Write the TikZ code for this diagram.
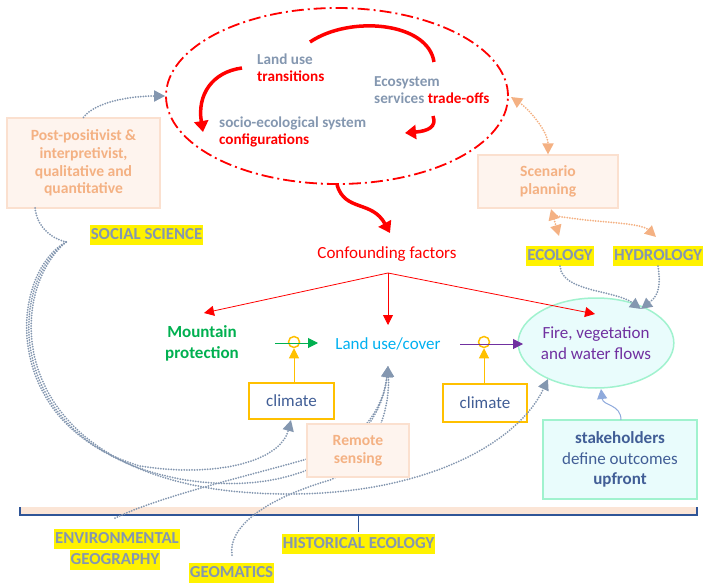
\documentclass[tikz,border=0pt]{standalone}
\usepackage{fontspec}
\setmainfont{Carlito}
\usetikzlibrary{arrows.meta,shapes.geometric,calc}

\definecolor{slate}{HTML}{8497B0}
\definecolor{peachtx}{HTML}{F4B183}
\definecolor{peachfill}{HTML}{FEF4EE}
\definecolor{peachline}{HTML}{FBE0CF}
\definecolor{mint}{HTML}{A0F2CE}
\definecolor{icefill}{HTML}{E9FCFC}
\definecolor{amber}{HTML}{FFC000}
\definecolor{inkblue}{HTML}{415E96}
\definecolor{mtgreen}{HTML}{00B050}
\definecolor{skyblue}{HTML}{00B0F0}
\definecolor{violet}{HTML}{7030A0}
\definecolor{bracecol}{HTML}{2F5597}
\definecolor{barfill}{HTML}{FBE5D6}
\definecolor{softblue}{HTML}{8FAADC}

\newcommand\fsbody{\fontsize{17}{20.5}\selectfont}
\newcommand\fssmall{\fontsize{15.6}{17.6}\selectfont}
\newcommand\fsloop{\fontsize{15.2}{17}\selectfont}
\newcommand\fstag{\fontsize{16.8}{20}\selectfont}

\begin{document}
\begin{tikzpicture}[x=1pt,y=-1pt,
  dotline/.style={draw=slate,line width=2pt,line cap=round,dash pattern=on 0pt off 2.6pt},
  peachdot/.style={draw=peachtx,line width=2pt,line cap=round,dash pattern=on 0pt off 2.6pt},
  tipS/.tip={Triangle[length=11pt,width=11pt]},
  redthick/.style={draw=red,line width=3.5pt,-{Triangle[length=11pt,width=14pt]}},
  redthin/.style={draw=red,line width=0.8pt,-{Triangle[length=10pt,width=10pt]}},
  paleBox/.style={draw=peachline,fill=peachfill,line width=1.2pt,text=peachtx,
    font=\bfseries\fssmall,align=center,inner sep=0pt},
  climbox/.style={draw=amber,line width=1.6pt,fill=white,text=inkblue,font=\fsbody,
    minimum width=85pt,minimum height=36pt,inner sep=0pt},
  hl/.style={fill=yellow,text=slate,font=\bfseries\fstag,inner xsep=1pt,inner ysep=2.5pt,
    text height=12pt,text depth=3pt},
  looptext/.style={text=slate,font=\bfseries\fsloop,align=left,anchor=west,inner sep=0pt},
  ring/.style={circle,draw=amber,line width=1.5pt,minimum size=11pt,inner sep=0pt}
]
\useasboundingbox (0,0) rectangle (703,585);

% bottom brace bar
\fill[barfill] (20,507) rectangle (697,515);
\draw[bracecol,line width=1.6pt] (20,507) -- (20,515) -- (697,515) -- (697,507);
\coordinate (barmid) at (358.5,515);
\coordinate (barfoot) at (358.5,532);
\draw[bracecol,line width=1.6pt] (barmid) -- (barfoot);

% the socio-ecological loop
\node[ellipse,draw=red,line width=1.8pt,dash pattern=on 12pt off 4pt on 2pt off 4pt,
  minimum width=342pt,minimum height=176pt] (cycle) at (337,96) {};
\node[looptext] (lut) at (257,67.5) {Land use\\\textcolor{red}{transitions}};
\node[looptext] (est) at (374,90) {Ecosystem\\services \textcolor{red}{trade-offs}};
\node[looptext] (ses) at (219,131.5) {socio-ecological system\\\textcolor{red}{configurations}};
\coordinate (a1) at (310,42);
\coordinate (a2) at (434,62);
\draw[draw=red,line width=3.5pt] (a1) .. controls (350,15) and (428,22) .. (a2);
\coordinate (b1) at (242,68);
\coordinate (b2) at (203,132);
\draw[redthick] (b1) .. controls (212,72) and (197,95) .. (b2);
\coordinate (c1) at (433,116);
\coordinate (c2) at (405,133);
\draw[redthick] (c1) .. controls (437,127) and (428,131) .. (c2);

% confounding factors
\node[text=red,font=\fsbody] (cf) at (387,254) {Confounding factors};
\coordinate (cfapex) at (388,273);
\draw[redthick] (cycle.south) .. controls (345,212) and (372,200) .. (390,233);

% middle row
\node[text=mtgreen,font=\bfseries\fsbody,align=center] (mp) at (202,343.5) {Mountain\\protection};
\node[text=skyblue,font=\fsbody] (lu) at (388,344) {Land use/cover};
\node[ellipse,draw=mint,fill=icefill,line width=1.5pt,minimum width=136pt,minimum height=90pt,
  inner sep=0pt,text=violet,font=\fsbody,align=center] (fire) at (596,343)
  {Fire, vegetation\\and water flows};

\coordinate (mptip) at (204,313);
\coordinate (lutip) at (388,325);
\coordinate (firetip) at (595,314);
\draw[redthin] (cfapex) -- (mptip);
\draw[redthin] (cfapex) -- (lutip);
\draw[redthin] (cfapex) -- (firetip);

% climate modifiers
\node[climbox] (cl1) at (291.5,401) {climate};
\node[climbox,minimum width=84pt,minimum height=38pt] (cl2) at (485,403) {climate};
\node[ring] (r1) at (294,342) {};
\node[ring] (r2) at (484,342) {};
\coordinate (g1) at (275,343);
\coordinate (g2) at (318,343);
\draw[mtgreen,line width=1pt,-{Triangle[length=10pt,width=10pt]}] (g1) -- (g2);
\coordinate (p1) at (460,344);
\coordinate (p2) at (523,344);
\draw[violet,line width=1pt,-{Triangle[length=10pt,width=10pt]}] (p1) -- (p2);
\draw[amber,line width=1pt,-{Triangle[length=10pt,width=10pt]}] (cl1.north -| r1) -- (r1.south);
\draw[amber,line width=1pt,-{Triangle[length=10pt,width=10pt]}] (cl2.north -| r2) -- (r2.south);

% scenario planning and disciplines
\node[paleBox,minimum width=140pt,minimum height=53pt] (sc) at (548,181.5) {Scenario\\planning};
\node[hl] (eco) at (560,256) {ECOLOGY};
\node[hl] (hyd) at (658,256) {HYDROLOGY};
\coordinate (loopE) at (511,97);
\draw[peachdot,tipS-tipS] (loopE) .. controls (530,110) and (548,132) .. (sc.north);
\coordinate (scS1) at (551,209);
\coordinate (ecoN) at (559,236);
\draw[peachdot,tipS-tipS] (scS1) -- (ecoN);
\coordinate (scS2) at (557,216);
\coordinate (hydN) at (656,237);
\draw[peachdot,-tipS] (scS2) .. controls (595,223) and (640,222) .. (hydN);
\coordinate (fireNE) at (641,309);
\draw[dotline,-tipS] (eco.south) .. controls (562,292) and (615,290) .. (fireNE);
\draw[dotline,-tipS] (hyd.south) .. controls (662,292) and (655,298) .. (fireNE);

% stakeholders
\node[draw=mint,fill=icefill,line width=1.5pt,minimum width=154pt,minimum height=79pt,
  inner sep=0pt,text=inkblue,font=\fsbody,align=center] (stk) at (620,459.5)
  {\textbf{stakeholders}\\define outcomes\\\textbf{upfront}};
\coordinate (stkup) at (621,420);
\coordinate (fireS) at (601,389);
\draw[softblue,line width=1pt,-{Triangle[length=10pt,width=10pt]}] (stkup) .. controls (621,404) and (603,406) .. (fireS);

% social science
\node[paleBox,minimum width=153pt,minimum height=90pt] (pp) at (83.5,163)
  {Post-positivist \&\\interpretivist,\\qualitative and\\quantitative};
\node[hl] (ss) at (146.5,235) {SOCIAL SCIENCE};
\draw[dotline,-tipS] (pp.north) .. controls (95,102) and (130,96) .. (cycle.west);
\coordinate (ppfoot) at (35,208);
\coordinate (hub) at (66,242);
\draw[dotline] (ppfoot) .. controls (37,226) and (50,238) .. (hub);

\coordinate (luin) at (388,366);
\coordinate (firein) at (548,379);
\coordinate (cl1in) at (291,420);
\draw[dotline,-tipS] (hub) .. controls (8,275) and (0,425) .. (140,466) .. controls (215,478) and (280,462) .. (cl1in);
\draw[dotline,-tipS] (hub) .. controls (6,285) and (2,445) .. (180,479) .. controls (300,500) and (380,445) .. (luin);
\draw[dotline,-tipS] (hub) .. controls (4,295) and (6,465) .. (230,491) .. controls (400,508) and (515,450) .. (firein);

% environmental geography and geomatics
\node[hl] (env1) at (117,538.5) {ENVIRONMENTAL};
\node[hl] (env2) at (115,559.5) {GEOGRAPHY};
\node[hl] (geo) at (231.5,573) {GEOMATICS};
\node[hl] (hist) at (358.5,543.5) {HISTORICAL ECOLOGY};
\coordinate (envtop) at (115,518);
\coordinate (geotop) at (232,555);
\draw[dotline,-tipS] (envtop) .. controls (170,492) and (275,470) .. (330,452) .. controls (365,435) and (384,405) .. (luin);
\draw[dotline,-tipS] (geotop) .. controls (228,528) and (262,500) .. (330,480) .. controls (372,462) and (390,415) .. (luin);

\node[paleBox,minimum width=102pt,minimum height=53pt] (rs) at (358,450.5) {Remote\\sensing};
\end{tikzpicture}
\end{document}
